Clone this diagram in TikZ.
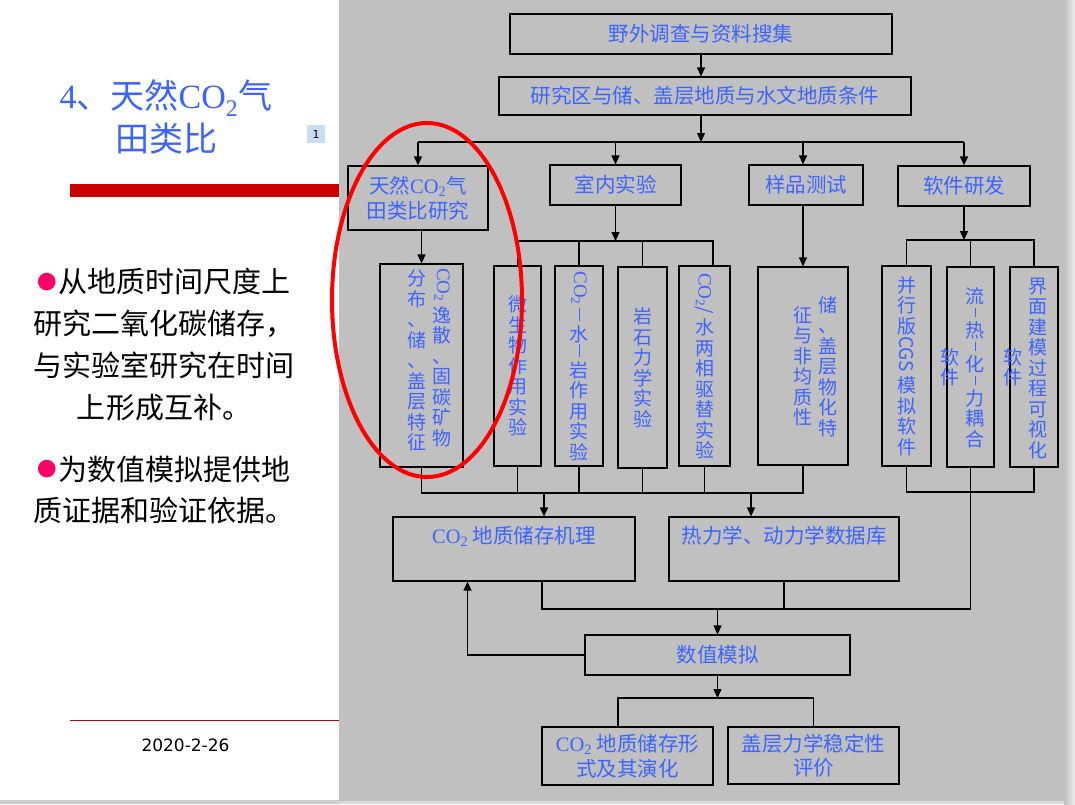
\documentclass[tikz,border=0pt]{standalone}
\usepackage{fontspec}
\usepackage{graphicx}
\setmainfont{Noto Sans CJK SC}
\newfontfamily\tnr{Liberation Serif}
\newfontfamily\dvs{DejaVu Sans}
\usetikzlibrary{arrows.meta}
\definecolor{bggray}{RGB}{192,192,192}
\definecolor{txtblue}{RGB}{60,100,255}
\definecolor{barred}{RGB}{204,0,0}
\definecolor{dotpink}{RGB}{255,0,102}
\definecolor{tagblue}{RGB}{198,221,242}
\newcommand{\boxfont}{\fontsize{20.5}{24.5}\selectfont}
\newcommand{\vfont}{\fontsize{19}{20.5}\selectfont}
\newcommand{\vlat}[1]{\raisebox{\depth}{\rotatebox{-90}{#1}}}
\newcommand{\cotwo}{{\tnr CO\textsubscript{2}}}
\newcommand{\dotmark}{\raisebox{3.5pt}{\color{dotpink}\fontsize{19.5}{20}\selectfont ●}\hspace{2pt}}
\tikzset{
    box/.style={draw, line width=1.2pt, inner sep=0pt, align=center,
                text=txtblue, font=\boxfont},
    tall/.style={box, font=\vfont},
    col/.style={inner sep=0pt, align=center, text=txtblue, font=\vfont},
    flow/.style={-{Triangle[length=9pt,width=8pt]}, line width=1.2pt},
    link/.style={line width=1.2pt},
    heading/.style={align=center, text=txtblue, font=\fontsize{34}{42.5}\selectfont},
    points/.style={align=center, font=\fontsize{29}{41.7}\selectfont},
    tag/.style={fill=tagblue, minimum size=18pt, inner sep=0pt,
                font=\dvs\fontsize{11}{12}\selectfont},
    ring/.style={draw=red, line width=4pt},
}

\begin{document}
\begin{tikzpicture}[x=1pt, y=-1pt]

    % page
    \useasboundingbox (0,0) rectangle (1075,804);
    \fill[bggray] (339,0) rectangle (1064,804);
    \shade[left color=bggray, right color=white!93!black] (1064,0) rectangle (1075,804);
    \fill[black!20] (0,800) rectangle (339,804);
    \fill[black!14] (339,801) rectangle (1064,804);

    % left panel
    \node[heading] (title) at (166,117) {{\tnr 4}、天然{\tnr CO\textsubscript{2}}气\\田类比};
    \node[tag] (slidenum) at (316,134) {1};
    \fill[barred] (70,184) rectangle (339,197);
    \node[points] (point1) at (164,344.5)
        {\dotmark 从地质时间尺度上\\研究二氧化碳储存，\\与实验室研究在时间\\上形成互补。};
    \node[points] (point2) at (164,490)
        {\dotmark 为数值模拟提供地\\质证据和验证依据。};
    \draw[barred, line width=1pt] (70,720) -- (339,720);
    \node[font=\dvs\fontsize{17}{20}\selectfont] (date) at (185.5,745) {2020-2-26};

    % top rows
    \node[box, minimum width=382, minimum height=40] (survey) at (701,34) {野外调查与资料搜集};
    \node[box, minimum width=412, minimum height=38] (area) at (705,96) {研究区与储、盖层地质与水文地质条件};
    \coordinate (split) at (701,142);
    \node[box, minimum width=140, minimum height=64] (natural) at (418,198) {天然\cotwo{}气\\田类比研究};
    \node[box, minimum width=131, minimum height=40] (lab) at (615.5,185) {室内实验};
    \node[box, minimum width=114, minimum height=40] (sample) at (806,185) {样品测试};
    \node[box, minimum width=132, minimum height=40] (soft) at (964,186) {软件研发};

    % vertical boxes
    \node[tall, minimum width=83, minimum height=203] (escape) at (421.5,365.5) {};
    \node[col, anchor=north] (escR) at (442,268) {\vlat{\cotwo}\\逸\\散\\、\\固\\碳\\矿\\物};
    \node[col, anchor=north] (escL) at (417,270) {分\\布\\、\\储\\、\\盖\\层\\特\\征};
    \node[tall, minimum width=47, minimum height=200] (micro) at (517.5,366) {微\\生\\物\\作\\用\\实\\验};
    \node[tall, minimum width=48, minimum height=200] (wri) at (579,366)
        {\vlat{\cotwo}\\[-5pt]\rule{1pt}{13pt}\\水\\[-5pt]\rule{1pt}{13pt}\\岩\\作\\用\\实\\验};
    \node[tall, minimum width=49, minimum height=201] (rock) at (642.5,367.5) {岩\\石\\力\\学\\实\\验};
    \node[tall, minimum width=51, minimum height=200] (twophase) at (704.5,366)
        {\vlat{\cotwo/}\\水\\两\\相\\驱\\替\\实\\验};
    \node[tall, minimum width=90, minimum height=198] (props) at (803,366) {};
    \node[col] (propR) at (828,366.5) {储\\、\\盖\\层\\物\\化\\特};
    \node[col] (propL) at (803,366.5) {征\\与\\非\\均\\质\\性};
    \node[tall, minimum width=49, minimum height=200] (parallel) at (906.5,366)
        {并\\行\\版\\\vlat{CGS}\\模\\拟\\软\\件};
    \node[tall, minimum width=47, minimum height=200] (coupling) at (970.5,367) {};
    \node[col] (coupR) at (975,367.5)
        {流\\[-7pt]\rule{1pt}{9pt}\\热\\[-7pt]\rule{1pt}{9pt}\\化\\[-7pt]\rule{1pt}{9pt}\\力\\耦\\合};
    \node[col] (coupL) at (950,367.5) {软\\件};
    \node[tall, minimum width=48, minimum height=200] (visual) at (1034,367) {};
    \node[col] (visR) at (1038,368.5) {界\\面\\建\\模\\过\\程\\可\\视\\化};
    \node[col] (visL) at (1012.5,367.5) {软\\件};

    % lower rows
    \node[box, minimum width=242, minimum height=64] (mech) at (514,549) {\cotwo{} 地质储存机理\\[4pt]\mbox{}};
    \node[box, minimum width=230, minimum height=64] (thermo) at (784,549) {热力学、动力学数据库\\[4pt]\mbox{}};
    \node[box, minimum width=265, minimum height=40] (sim) at (717.5,655) {数值模拟};
    \node[box, minimum width=171, minimum height=58] (form) at (627.5,756) {\cotwo{} 地质储存形\\式及其演化};
    \node[box, minimum width=171, minimum height=57] (eval) at (813.5,755.5) {盖层力学稳定性\\评价};

    \coordinate (labbus) at (615.5,241);
    \coordinate (softbus) at (964,240);
    \coordinate (twotop) at ([xshift=8.5pt]twophase.north);
    \coordinate (labjoin) at (544,493);
    \coordinate (thermojoin) at (751,493);
    \coordinate (softjoin) at (970.5,492);
    \coordinate (simjoin) at (717.5,609);
    \coordinate (mechout) at ([xshift=28pt]mech.south);
    \coordinate (mechin) at ([xshift=-46.5pt]mech.south);
    \coordinate (outjoin) at (717.5,698);
    \coordinate (formin) at ([xshift=-9.5pt]form.north);

    % connectors
    \draw[flow] (survey.south) -- (survey.south |- area.north);
    \draw[flow] (split |- area.south) -- (split);
    \draw[link] (natural.north |- split) -- (soft.north |- split);
    \foreach \n in {natural, lab, soft}
        \draw[flow] (\n.north |- split) -- (\n.north);
    \draw[flow] (props.north |- split) -- (props.north |- sample.north);
    \draw[flow] (escape.north |- natural.south) -- (escape.north);
    \draw[flow] (lab.south) -- (lab.south |- labbus);
    \draw[link] (micro.north) |- (labbus) -| (twotop);
    \draw[link] (wri.north) -- (wri.north |- labbus);
    \draw[link] (rock.north) -- (rock.north |- labbus);
    \draw[flow] (props.north |- sample.south) -- (props.north);
    \draw[flow] (soft.south) -- (soft.south |- softbus);
    \draw[link] (parallel.north) |- (softbus) -| (visual.north);
    \draw[link] (coupling.north) -- (coupling.north |- softbus);

    \draw[link] (escape.south) |- (labjoin) -| (props.south);
    \foreach \n in {micro, wri, rock, twophase}
        \draw[link] (\n.south) -- (\n.south |- labjoin);
    \draw[flow] (labjoin) -- (labjoin |- mech.north);
    \draw[flow] (thermojoin) -- (thermojoin |- thermo.north);
    \draw[link] (parallel.south) |- (softjoin) -| (visual.south);
    \draw[link] (coupling.south) |- (simjoin) -| (mechout);
    \draw[link] (thermo.south) -- (thermo.south |- simjoin);
    \draw[flow] (simjoin) -- (sim.north);
    \draw[flow] (sim.west) -| (mechin);
    \draw[flow] (sim.south) -- (outjoin);
    \draw[link] (formin) |- (outjoin) -| (eval.north);

    % highlight
    \draw[ring] (427,300) ellipse [x radius=95, y radius=177];

\end{tikzpicture}
\end{document}
